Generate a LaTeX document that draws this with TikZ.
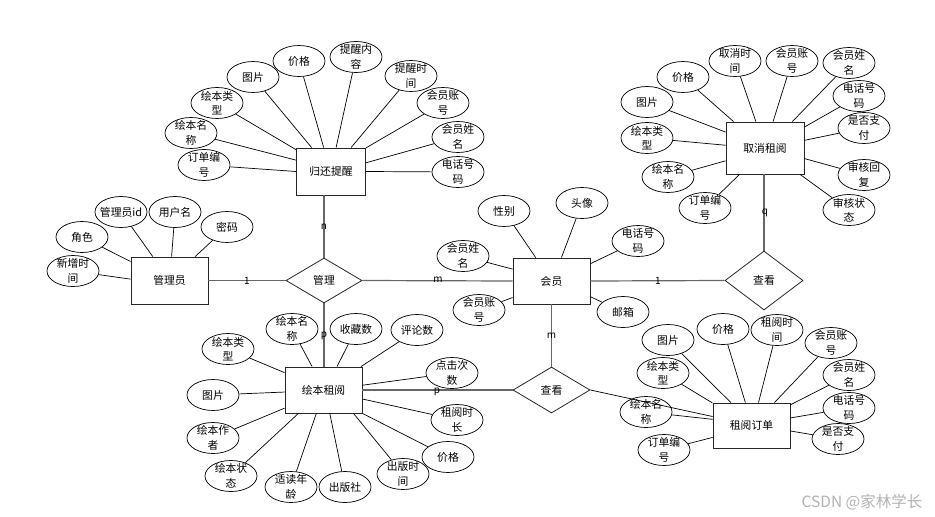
\documentclass[tikz,border=0pt]{standalone}
\usepackage{fontspec}
\setmainfont{Noto Sans CJK SC}
\usetikzlibrary{shapes.geometric}
\tikzset{
  ent/.style={rectangle, draw=black!85, line width=0.9pt, minimum width=77pt, minimum height=46pt, inner sep=0pt},
  rel/.style={diamond, draw=black!85, line width=0.8pt, minimum width=77pt, minimum height=46pt, inner sep=0pt},
  attr/.style={ellipse, draw=black, line width=0.7pt, minimum width=52pt, minimum height=31pt, inner sep=-4pt, align=center},
  al/.style={line width=0.7pt, draw=black},
  rl/.style={line width=1.2pt, draw=black!60},
  card/.style={inner sep=0pt, font=\fontsize{10}{12}\selectfont},
}
\begin{document}
\begin{tikzpicture}[x=1pt, y=-1pt, font=\fontsize{10.8}{14.5}\selectfont]
\useasboundingbox (0,0) rectangle (935,517);

% ---------- entities ----------
\node[ent, minimum width=69pt, minimum height=47pt] (G) at (331,171.5) {归还提醒};
\node[ent, minimum width=78pt, minimum height=52pt] (Q) at (765,148) {取消租阅};
\node[ent, minimum height=47pt] (A) at (169.5,280.5) {管理员};
\node[ent] (M) at (551.5,281) {会员};
\node[ent] (B) at (323.5,390) {绘本租阅};
\node[ent, minimum height=45pt] (O) at (751.5,425.5) {租阅订单};

% ---------- relationships ----------
\node[rel, minimum width=76pt, minimum height=45pt] (R1) at (324,280.5) {管理};
\node[rel, minimum width=78pt, minimum height=59pt] (R2) at (764,280.5) {查看};
\node[rel] (R3) at (551.5,390) {查看};

% ---------- main connectors ----------
\draw[rl] (A.east) -- (R1.west);
\draw[rl] (R1.east) -- (M.west);
\draw[rl] (R1.north) -- (R1.north |- G.south);
\draw[rl] (R1.south) -- (R1.south |- B.north);
\draw[rl] (M.east) -- (R2.west);
\draw[rl] (R2.north) -- (R2.north |- Q.south);
\draw[rl] (M.south) -- (R3.north);
\draw[rl] (B.east) -- (R3.west);
\draw[al] (R3.east) -- (O.167);

\node[card] (c1) at (247,280.5) {1};
\node[card] (c2) at (438,280) {m};
\node[card] (c3) at (324,227) {n};
\node[card] (c4) at (324,336) {p};
\node[card] (c5) at (658,280.5) {1};
\node[card] (c6) at (765,213) {q};
\node[card] (c7) at (551.5,336) {m};
\node[card] (c8) at (437,392) {p};

% ---------- 归还提醒 attributes ----------
\node[attr] (g1) at (253,77) {图片};
\node[attr] (g2) at (299,61) {价格};
\node[attr] (g3) at (356,57) {提醒内\\容};
\node[attr] (g4) at (411,76) {提醒时\\间};
\node[attr] (g5) at (443,103) {会员账\\号};
\node[attr] (g6) at (458,137) {会员姓\\名};
\node[attr] (g7) at (458,172) {电话号\\码};
\node[attr] (g8) at (217,103) {绘本类\\型};
\node[attr] (g9) at (191,133) {绘本名\\称};
\node[attr] (g10) at (204,165) {订单编\\号};
\draw[al] (g1) -- (G.129);
\draw[al] (g2) -- (G.107);
\draw[al] (g3) -- (G.78);
\draw[al] (g4) -- (G.50);
\draw[al] (g5) -- (G.34);
\draw[al] (g6) -- (G.14);
\draw[al] (g7) -- (G.0);
\draw[al] (g8) -- (G.148);
\draw[al] (g9) -- (G.162);
\draw[al] (g10) -- (G.180);

% ---------- 取消租阅 attributes ----------
\node[attr] (q1) at (683,77) {价格};
\node[attr] (q2) at (735,61) {取消时\\间};
\node[attr] (q3) at (792,61) {会员账\\号};
\node[attr] (q4) at (849,63) {会员姓\\名};
\node[attr] (q5) at (859,96) {电话号\\码};
\node[attr] (q6) at (864,128) {是否支\\付};
\node[attr] (q7) at (864,175) {审核回\\复};
\node[attr] (q8) at (849,210) {审核状\\态};
\node[attr] (q9) at (705,208) {订单编\\号};
\node[attr] (q10) at (668,177) {绘本名\\称};
\node[attr] (q11) at (647,138) {绘本类\\型};
\node[attr] (q12) at (647,102) {图片};
\draw[al] (q1) -- (Q.140);
\draw[al] (q2) -- (Q.109);
\draw[al] (q3) -- (Q.73);
\draw[al] (q4) -- (Q.44);
\draw[al] (q5) -- (Q.28);
\draw[al] (q6) -- (Q.11);
\draw[al] (q7) -- (Q.-15);
\draw[al] (q8) -- (Q.-37);
\draw[al] (q9) -- (Q.226);
\draw[al] (q10) -- (Q.198);
\draw[al] (q11) -- (Q.176);
\draw[al] (q12) -- (Q.158);

% ---------- 管理员 attributes ----------
\node[attr] (a1) at (121,212) {管理员id};
\node[attr] (a2) at (175,212) {用户名};
\node[attr] (a3) at (227,227) {密码};
\node[attr] (a4) at (82,237) {角色};
\node[attr] (a5) at (73,271) {新增时\\间};
\draw[al] (a1) -- (A.125);
\draw[al] (a2) -- (A.85);
\draw[al] (a3) -- (A.43);
\draw[al] (a4) -- (A.154);
\draw[al] (a5) -- (A.178);

% ---------- 会员 attributes ----------
\node[attr] (m1) at (504,211) {性别};
\node[attr] (m2) at (582,203) {头像};
\node[attr] (m3) at (638,241) {电话号\\码};
\node[attr] (m4) at (463,256) {会员姓\\名};
\node[attr] (m5) at (479,310) {会员账\\号};
\node[attr] (m6) at (623,312) {邮箱};
\draw[al] (m1) -- (M.124);
\draw[al] (m2) -- (M.67);
\draw[al] (m3) -- (M.24);
\draw[al] (m4) -- (M.163);
\draw[al] (m5) -- (M.203);
\draw[al] (m6) -- (M.-22);

% ---------- 绘本租阅 attributes ----------
\node[attr] (b1) at (292,329) {绘本名\\称};
\node[attr] (b2) at (356,329) {收藏数};
\node[attr] (b3) at (417,330) {评论数};
\node[attr] (b4) at (452,373) {点击次\\数};
\node[attr] (b5) at (457,420) {租阅时\\长};
\node[attr] (b6) at (448,457) {价格};
\node[attr] (b7) at (403,474) {出版时\\间};
\node[attr] (b8) at (345,487) {出版社};
\node[attr] (b9) at (291,487) {适读年\\龄};
\node[attr] (b10) at (231,476) {绘本状\\态};
\node[attr] (b11) at (213,438) {绘本作\\者};
\node[attr] (b12) at (213,395) {图片};
\node[attr] (b13) at (228,349) {绘本类\\型};
\draw[al] (b1) -- (B.116);
\draw[al] (b2) -- (B.60);
\draw[al] (b3) -- (B.32);
\draw[al] (b4) -- (B.7);
\draw[al] (b5) -- (B.-13);
\draw[al] (b6) -- (B.-31);
\draw[al] (b7) -- (B.-38);
\draw[al] (b8) -- (B.-75);
\draw[al] (b9) -- (B.-107);
\draw[al] (b10) -- (B.223);
\draw[al] (b11) -- (B.205);
\draw[al] (b12) -- (B.183);
\draw[al] (b13) -- (B.156);

% ---------- 租阅订单 attributes ----------
\node[attr] (o1) at (668,340) {图片};
\node[attr] (o2) at (723,329) {价格};
\node[attr] (o3) at (777,330) {租阅时\\间};
\node[attr] (o4) at (831,343) {会员账\\号};
\node[attr] (o5) at (849,375) {会员姓\\名};
\node[attr] (o6) at (849,408) {电话号\\码};
\node[attr] (o7) at (838,439) {是否支\\付};
\node[attr] (o8) at (664,450) {订单编\\号};
\node[attr] (o9) at (646,412) {绘本名\\称};
\node[attr] (o10) at (663,373) {绘本类\\型};
\draw[al] (o1) -- (O.132);
\draw[al] (o2) -- (O.105);
\draw[al] (o3) -- (O.73);
\draw[al] (o4) -- (O.45);
\draw[al] (o5) -- (O.28);
\draw[al] (o6) -- (O.11);
\draw[al] (o7) -- (O.-8);
\draw[al] (o8) -- (O.197);
\draw[al] (o9) -- (O.171);
\draw[al] (o10) -- (O.150);

% ---------- watermark ----------
\node[inner sep=0pt, text=black!30, font=\fontsize{15.5}{17}\selectfont] (wm) at (862,502) {CSDN @家林学长};
\end{tikzpicture}
\end{document}
